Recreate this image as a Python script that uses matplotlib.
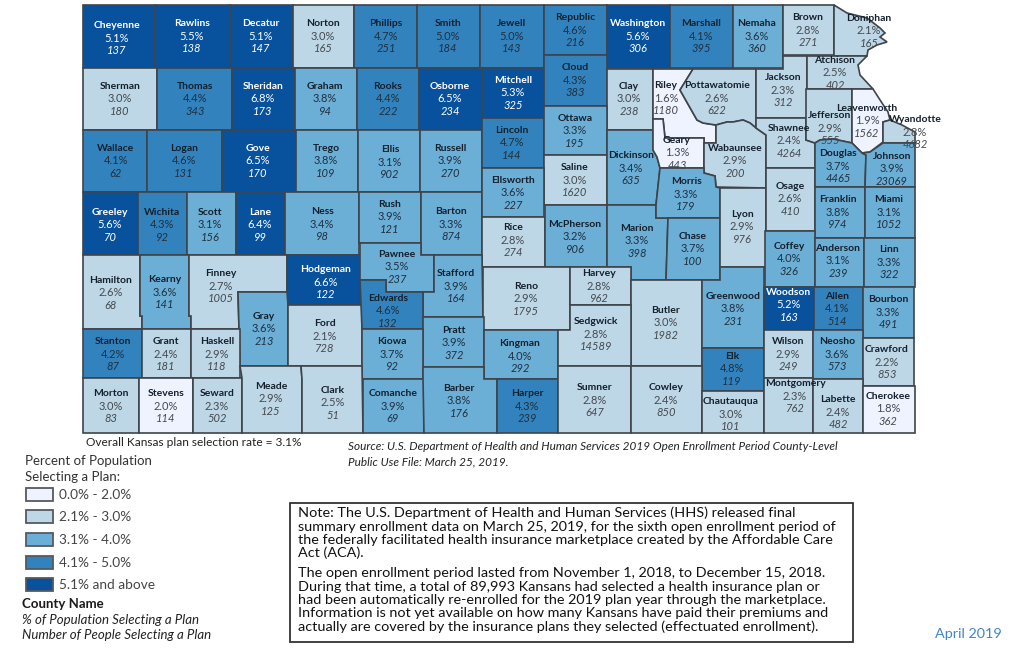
import matplotlib
matplotlib.use("Agg")
import matplotlib.pyplot as plt
from matplotlib.patches import Polygon, Rectangle
import numpy as np

plt.rcParams['font.family'] = ['Lato', 'DejaVu Sans']

counties = ["Cheyenne","Rawlins","Decatur","Norton","Phillips","Smith","Jewell","Republic","Washington","Marshall","Nemaha","Brown","Doniphan",
"Sherman","Thomas","Sheridan","Graham","Rooks","Osborne","Mitchell","Cloud","Clay","Riley","Pottawatomie","Jackson","Atchison",
"Wallace","Logan","Gove","Trego","Ellis","Russell","Lincoln","Ottawa","Saline","Dickinson","Geary","Wabaunsee","Shawnee","Jefferson","Leavenworth","Wyandotte",
"Greeley","Wichita","Scott","Lane","Ness","Rush","Barton","Ellsworth","Rice","McPherson","Marion","Morris","Chase","Lyon","Osage","Douglas","Johnson","Franklin","Miami",
"Hamilton","Kearny","Finney","Hodgeman","Pawnee","Stafford","Reno","Harvey","Butler","Greenwood","Coffey","Anderson","Linn",
"Gray","Ford","Edwards","Pratt","Kingman","Sedgwick","Woodson","Allen","Bourbon",
"Stanton","Grant","Haskell","Kiowa","Elk","Wilson","Neosho","Crawford",
"Morton","Stevens","Seward","Meade","Clark","Comanche","Barber","Harper","Sumner","Cowley","Chautauqua","Montgomery","Labette","Cherokee"]

rates = [5.1,5.5,5.1,3.0,4.7,5.0,5.0,4.6,5.6,4.1,3.6,2.8,2.1,
3.0,4.4,6.8,3.8,4.4,6.5,5.3,4.3,3.0,1.6,2.6,2.3,2.5,
4.1,4.6,6.5,3.8,3.1,3.9,4.7,3.3,3.0,3.4,1.3,2.9,2.4,2.9,1.9,2.8,
5.6,4.3,3.1,6.4,3.4,3.9,3.3,3.6,2.8,3.2,3.3,3.3,3.7,2.9,2.6,3.7,3.9,3.8,3.1,
2.6,3.6,2.7,6.6,3.5,3.9,2.9,2.8,3.0,3.8,4.0,3.1,3.3,
3.6,2.1,4.6,3.9,4.0,2.8,5.2,4.1,3.3,
4.2,2.4,2.9,3.7,4.8,2.9,3.6,2.2,
3.0,2.0,2.3,2.9,2.5,3.9,3.8,4.3,2.8,2.4,3.0,2.3,2.4,1.8]

people = [137,138,147,165,251,184,143,216,306,395,360,271,165,
180,343,173,94,222,234,325,383,238,1180,622,312,402,
62,131,170,109,902,270,144,195,1620,635,443,200,4264,555,1562,4682,
70,92,156,99,98,121,874,227,274,906,398,179,100,976,410,4465,23069,974,1052,
68,141,1005,122,237,164,1795,962,1982,231,326,239,322,
213,728,132,372,292,14589,163,514,491,
87,181,118,92,119,249,573,853,
83,114,502,125,51,69,176,239,647,850,101,762,482,362]

def box(x0, y0, x1, y1):
    return [(x0, y0), (x1, y0), (x1, y1), (x0, y1)]

# County outlines of the base map, in picture pixels
outlines = {
"Cheyenne":box(83,5,155,68),"Rawlins":box(155,5,230,68),"Decatur":box(230,5,293,68),"Norton":box(293,5,354,68),
"Phillips":box(354,5,417,68),"Smith":box(417,5,480,68),"Jewell":box(480,5,544,68),"Republic":box(544,5,607,55),
"Washington":box(607,5,670,68),"Marshall":box(670,5,733,68),"Nemaha":box(733,5,783,68),"Brown":box(783,5,834,55),
"Doniphan":[(834,5),(847,13),(867,18),(880,28),(885,33),(880,37),(887,42),(877,45),(868,50),(867,56),(834,56)],
"Sherman":box(83,68,157,130),"Thomas":box(157,68,232,130),"Sheridan":box(232,68,295,130),"Graham":box(295,68,357,130),
"Rooks":box(357,68,419,130),"Osborne":box(419,68,482,130),"Mitchell":box(482,68,544,118),"Cloud":box(544,55,607,106),
"Clay":box(607,69,653,130),
"Riley":[(653,69),(693,69),(680,90),(697,120),(703,123),(716,125),(716,143),(704,143),(704,138),(665,138),(663,119),(653,119)],
"Pottawatomie":[(693,69),(756,69),(756,128),(750,123),(743,120),(733,122),(727,122),(716,125),(703,123),(697,120),(680,90)],
"Jackson":[(756,69),(783,69),(783,56),(807,56),(807,118),(756,118)],
"Atchison":[(807,56),(867,56),(858,65),(860,75),(873,89),(807,89)],
"Wallace":box(83,130,147,192),"Logan":box(147,130,222,192),"Gove":box(222,130,296,192),"Trego":box(296,130,358,192),
"Ellis":box(358,130,420,192),"Russell":box(420,130,482,192),"Lincoln":box(482,118,544,168),"Ottawa":box(544,106,607,155),
"Saline":box(544,155,607,205),
"Dickinson":[(607,130),(653,130),(653,150),(657,157),(660,168),(656,205),(607,205)],
"Geary":[(653,119),(663,119),(665,138),(704,138),(704,168),(660,168),(657,157),(653,150)],
"Wabaunsee":[(704,143),(716,143),(716,125),(727,122),(733,122),(743,120),(750,123),(756,128),(766,135),(766,188),(716,187),(715,176),(704,173)],
"Shawnee":[(756,118),(806,118),(806,140),(815,143),(815,168),(766,168),(766,135),(756,128)],
"Jefferson":[(806,89),(852,89),(852,143),(833,139),(820,140),(815,143),(806,140)],
"Leavenworth":[(852,89),(873,89),(882,103),(888,112),(890,120),(883,122),(883,142),(870,152),(862,153),(852,143)],
"Wyandotte":[(883,122),(890,120),(902,125),(915,132),(915,143),(883,143)],
"Greeley":box(83,192,138,255),"Wichita":box(138,192,187,255),"Scott":box(187,192,236,255),"Lane":box(236,192,285,255),
"Ness":box(285,192,359,255),"Rush":box(359,192,421,243),"Barton":box(421,192,482,255),"Ellsworth":box(482,168,544,217),
"Rice":box(482,217,545,267),"McPherson":box(545,205,607,267),
"Marion":[(607,205),(656,205),(656,218),(668,218),(666,280),(631,280),(631,267),(607,267)],
"Morris":[(660,168),(704,168),(704,173),(715,176),(716,187),(720,188),(720,218),(656,218),(656,205)],
"Chase":[(668,218),(720,218),(720,280),(666,280)],
"Lyon":box(720,188,766,267),"Osage":box(766,168,815,231),
"Douglas":[(815,143),(820,140),(833,139),(852,143),(862,153),(866,155),(865,187),(815,187)],
"Johnson":[(862,153),(870,152),(883,143),(915,143),(915,187),(865,187),(866,155)],
"Franklin":box(815,187,865,238),"Miami":box(865,187,915,238),
"Hamilton":[(83,255),(140,255),(140,316),(142,316),(142,329),(83,329)],
"Kearny":[(140,255),(189,255),(189,316),(191,316),(191,329),(142,329),(142,316),(140,316)],
"Finney":[(189,255),(287,255),(287,292),(238,292),(239,329),(191,329),(191,316),(189,316)],
"Hodgeman":box(287,255,360,305),
"Pawnee":[(360,243),(421,243),(421,255),(434,255),(434,292),(386,292),(386,280),(360,280)],
"Stafford":[(434,255),(482,255),(483,317),(423,317),(423,292),(434,292)],
"Reno":box(483,267,570,330),"Harvey":box(570,267,631,305),"Butler":box(631,280,702,366),
"Greenwood":[(702,280),(720,280),(720,267),(764,267),(764,348),(702,348)],
"Coffey":box(765,231,815,287),"Anderson":box(815,238,864,287),"Linn":box(864,238,915,287),
"Gray":[(238,292),(287,292),(288,305),(288,366),(240,366),(239,329)],
"Ford":box(288,305,362,366),
"Edwards":[(360,280),(386,280),(386,292),(423,292),(423,329),(362,329)],
"Pratt":box(423,317,484,367),"Kingman":box(484,330,558,379),
"Sedgwick":[(558,330),(570,330),(570,305),(631,305),(631,366),(558,366)],
"Woodson":box(764,287,814,330),"Allen":box(814,287,863,330),"Bourbon":box(863,287,914,338),
"Stanton":box(83,329,142,378),"Grant":box(142,329,191,378),"Haskell":box(191,329,240,378),
"Kiowa":box(362,329,423,379),"Elk":box(702,348,764,391),"Wilson":box(764,330,813,378),"Neosho":box(813,330,863,379),
"Crawford":box(863,338,914,386),
"Morton":box(83,378,139,433),"Stevens":box(139,378,193,433),"Seward":box(193,378,242,433),
"Meade":[(240,366),(301,366),(302,379),(302,433),(242,433),(242,378)],
"Clark":[(301,366),(362,366),(363,433),(302,433),(302,379)],
"Comanche":box(363,379,424,433),
"Barber":[(423,367),(484,367),(484,379),(497,379),(497,433),(424,433),(423,379)],
"Harper":box(497,379,558,433),"Sumner":box(558,366,631,433),"Cowley":box(631,366,702,433),"Chautauqua":box(702,391,764,433),
"Montgomery":box(764,378,813,433),"Labette":box(813,379,863,433),"Cherokee":box(863,386,915,433),
}

# Centre of the middle label line of each county, in picture pixels
anchors = {
"Cheyenne":(117,38),"Rawlins":(192,36),"Decatur":(261,36),"Norton":(323,36),"Phillips":(386,36),"Smith":(448,36),"Jewell":(512,36),
"Republic":(575,30),"Washington":(638,36),"Marshall":(701,36),"Nemaha":(757,36),"Brown":(808,30),"Doniphan":(869,31),
"Sherman":(120,99),"Thomas":(195,99),"Sheridan":(263,99),"Graham":(325,99),"Rooks":(388,99),"Osborne":(450,99),"Mitchell":(513,93),
"Cloud":(575,80),"Clay":(629,99),"Riley":(666,98),"Pottawatomie":(717,98),"Jackson":(783,90),"Atchison":(835,73),
"Wallace":(116,161),"Logan":(184,161),"Gove":(258,161),"Trego":(326,161),"Ellis":(390,162),"Russell":(450,161),"Lincoln":(512,143),
"Ottawa":(575,131),"Saline":(575,180),"Dickinson":(631,168),"Geary":(677,153),"Wabaunsee":(735,161),"Shawnee":(789,141),
"Jefferson":(830,128),"Leavenworth":(867,121),"Wyandotte":(915,132),
"Greeley":(110,225),"Wichita":(162,225),"Scott":(210,225),"Lane":(260,225),"Ness":(322,224),"Rush":(390,217),"Barton":(451,224),
"Ellsworth":(513,193),"Rice":(513,240),"McPherson":(575,237),"Marion":(637,241),"Morris":(686,194),"Chase":(693,249),"Lyon":(742,227),
"Osage":(790,199),"Douglas":(838,166),"Johnson":(892,169),"Franklin":(838,212),"Miami":(889,212),
"Hamilton":(111,293),"Kearny":(165,292),"Finney":(221,286),"Hodgeman":(326,282),"Pawnee":(397,267),"Stafford":(456,286),"Reno":(526,299),
"Harvey":(599,286),"Butler":(666,323),"Greenwood":(733,309),"Coffey":(789,259),"Anderson":(838,261),"Linn":(889,262),
"Gray":(264,329),"Ford":(325,336),"Edwards":(388,311),"Pratt":(454,343),"Kingman":(520,356),"Sedgwick":(596,334),"Woodson":(789,305),
"Allen":(837,309),"Bourbon":(888,312),
"Stanton":(113,354),"Grant":(166,354),"Haskell":(217,354),"Kiowa":(392,354),"Elk":(732,369),"Wilson":(788,354),"Neosho":(837,354),"Crawford":(887,362),
"Morton":(111,406),"Stevens":(166,406),"Seward":(217,406),"Meade":(271,399),"Clark":(333,403),"Comanche":(393,406),"Barber":(459,401),
"Harper":(527,406),"Sumner":(595,400),"Cowley":(666,400),"Chautauqua":(731,414),"Montgomery":(795,396),"Labette":(838,412),"Cherokee":(888,409),
}

bin_limits = [2.0, 3.0, 4.0, 5.0]
bin_colors = ["#eff3ff", "#bdd7e7", "#6baed6", "#3182bd", "#08519c"]
bin_labels = ["0.0% - 2.0%", "2.1% - 3.0%", "3.1% - 4.0%", "4.1% - 5.0%", "5.1% and above"]
edge = "#3f444a"

note_lines_1 = ["Note: The U.S. Department of Health and Human Services (HHS) released final",
    "summary enrollment data on March 25, 2019, for the sixth open enrollment period of",
    "the federally facilitated health insurance marketplace created by the Affordable Care",
    "Act (ACA)."]
note_lines_2 = ["The open enrollment period lasted from November 1, 2018, to December 15, 2018.",
    "During that time, a total of 89,993 Kansans had selected a health insurance plan or",
    "had been automatically re-enrolled for the 2019 plan year through the marketplace.",
    "Information is not yet available on how many Kansans have paid their premiums and",
    "actually are covered by the insurance plans they selected (effectuated enrollment)."]

fig = plt.figure(figsize=(10.24, 6.55), dpi=100)
ax = fig.add_axes([0, 0, 1, 1])
ax.set_xlim(0, 1024)
ax.set_ylim(655, 0)
ax.axis("off")

LS = 12.6
for name, rate, n in zip(counties, rates, people):
    b = int(np.searchsorted(bin_limits, rate, side="left"))
    ax.add_patch(Polygon(outlines[name], closed=True, fc=bin_colors[b], ec=edge, lw=1.2, joinstyle="miter", zorder=2))

for name, rate, n in zip(counties, rates, people):
    b = int(np.searchsorted(bin_limits, rate, side="left"))
    x, y = anchors[name]
    c1 = "white" if b == 4 else "#14202c"
    c2 = "white" if b == 4 else ("#20303f" if b >= 2 else "#45494d")
    ax.text(x, y - LS, name, color=c1, fontweight="bold", ha="center", va="center", fontsize=7.5, zorder=5)
    ax.text(x, y, f"{rate:.1f}%", color=c2, ha="center", va="center", fontsize=8.0, zorder=5)
    ax.text(x, y + LS, f"{n}", color=c2, style="italic", ha="center", va="center", fontsize=8.0, zorder=5)

ax.text(86, 442, "Overall Kansas plan selection rate = 3.1%", fontsize=8.6, color="#222222", va="center")
ax.text(348, 447, "Source: U.S. Department of Health and Human Services 2019 Open Enrollment Period County-Level",
        fontsize=8.5, style="italic", color="#222222", va="center")
ax.text(348, 462, "Public Use File: March 25, 2019.", fontsize=8.5, style="italic", color="#222222", va="center")

ax.text(25, 461, "Percent of Population", fontsize=9.5, color="#333333", va="center")
ax.text(25, 477, "Selecting a Plan:", fontsize=9.5, color="#333333", va="center")
for lab, col, y0 in zip(bin_labels, bin_colors, [488, 510, 533, 556, 578]):
    ax.add_patch(Rectangle((25.5, y0), 27, 13, fc=col, ec="#555a60", lw=1.3, zorder=2))
    ax.text(59, y0 + 7, lab, fontsize=9.8, color="#444444", va="center")
ax.text(22, 604, "County Name", fontsize=9.5, fontweight="bold", color="#1a1a1a", va="center")
ax.text(22, 620, "% of Population Selecting a Plan", fontsize=9.5, style="italic", color="#222222", va="center")
ax.text(22, 635, "Number of People Selecting a Plan", fontsize=9.5, style="italic", color="#222222", va="center")

ax.add_patch(Rectangle((290, 503), 563, 139, fc="white", ec="#333333", lw=1.3))
for line, y in zip(note_lines_1, [513, 527, 540, 553]):
    ax.text(298, y, line, fontsize=10.4, color="#111111", va="center")
for line, y in zip(note_lines_2, [573, 587, 600, 613, 627]):
    ax.text(298, y, line, fontsize=10.4, color="#111111", va="center")

ax.text(935, 634, "April 2019", fontsize=10.4, color="#3f86c4", va="center")

fig.savefig("out.png", dpi=100)
